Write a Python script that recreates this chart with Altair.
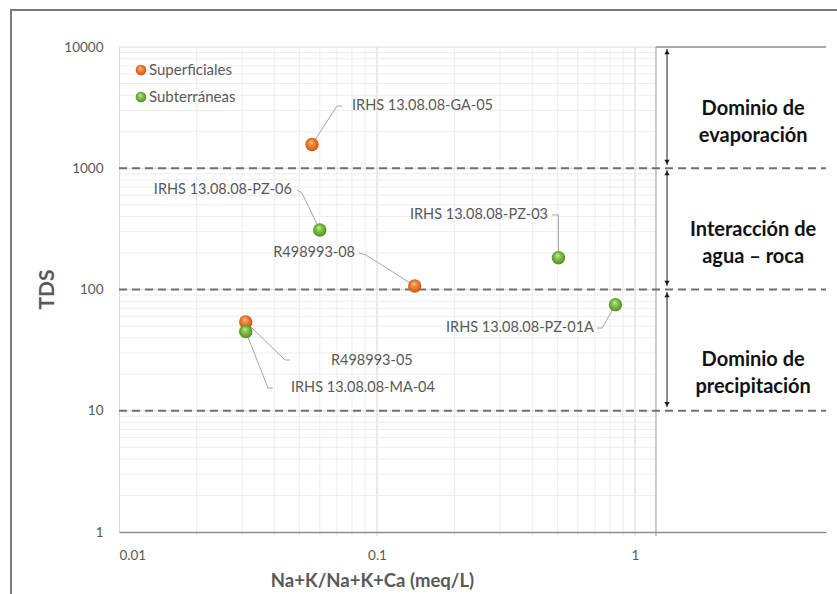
import altair as alt
import pandas as pd

# Muestras: relación Na+K/(Na+K+Ca) (meq/L) frente a sólidos disueltos totales
sample_ids = [
    "IRHS 13.08.08-GA-05", "R498993-08", "R498993-05",
    "IRHS 13.08.08-PZ-06", "IRHS 13.08.08-PZ-03", "IRHS 13.08.08-PZ-01A",
    "IRHS 13.08.08-MA-04",
]
ratio = [0.056, 0.140, 0.031, 0.060, 0.505, 0.84, 0.031]
tds = [1570, 107, 54, 310, 183, 75, 45]
water_type = [
    "Superficiales", "Superficiales", "Superficiales",
    "Subterráneas", "Subterráneas", "Subterráneas", "Subterráneas",
]

# Etiquetas de las muestras (en unidades de los ejes) y codos de las líneas guía
label_x = [0.080, 0.0822, 0.0663, 0.0468, 0.460, 0.693, 0.0464]
label_y = [3260, 200, 25.7, 660, 412, 48.1, 15.4]
label_align = ["left", "right", "left", "right", "right", "right", "left"]
leader_bends = [
    [(0.0700, 3260), (0.0732, 3260)],
    [(0.0907, 192.5), (0.0852, 200)],
    [(0.0440, 26.2), (0.0460, 26.2)],
    [(0.0512, 625), (0.0490, 660)],
    [(0.505, 412), (0.477, 412)],
    [(0.745, 48.1), (0.712, 48.1)],
    [(0.0378, 15.4), (0.0395, 15.4)],
]

# Límites de los dominios hidroquímicos (TDS)
limits = [10, 100, 1000]
domain_names = ["Dominio de\nevaporación", "Interacción de\nagua – roca", "Dominio de\nprecipitación"]
domain_text_y = [3110, 310, 26]
arrow_top = [9627, 967, 95.4]
arrow_bottom = [1064, 106.9, 10.7]

X_MIN, X_MAX = 0.01, 5.5
Y_MIN, Y_MAX = 1, 10000
PANEL_X = 1.206      # inicio del recuadro de texto a la derecha
ARROW_X = 1.331
TEXT_X = 2.87

GREY_TXT = "#595959"
FONT = "Lato"

xs = alt.Scale(type="log", domain=[X_MIN, X_MAX], nice=False)
ys = alt.Scale(type="log", domain=[Y_MIN, Y_MAX], nice=False)

x_axis = alt.Axis(values=[0.01, 0.1, 1], format="~g", grid=False, ticks=False,
                  domainColor="#8c8c8c", domainWidth=1.5, labelPadding=16,
                  titleX=253, titleY=48, titleBaseline="middle", zindex=1)
y_axis = alt.Axis(values=[1, 10, 100, 1000, 10000], format="~g", grid=False, ticks=False,
                  domainColor="#d9d9d9", labelPadding=16, titleFontSize=21,
                  titleX=-72, titleY=242, titleBaseline="middle")
X_TITLE = "Na+K/Na+K+Ca (meq/L)"
Y_TITLE = "TDS"


def X(field):
    return alt.X(field, type="quantitative", scale=xs, axis=x_axis, title=X_TITLE)


def Y(field):
    return alt.Y(field, type="quantitative", scale=ys, axis=y_axis, title=Y_TITLE)


samples = pd.DataFrame({
    "id": sample_ids, "ratio": ratio, "tds": tds, "tipo": water_type,
    "lx": label_x, "ly": label_y, "align": label_align,
})

# líneas de cuadrícula (mayores y menores) de los ejes logarítmicos
x_minor = [m * 10.0 ** k for k in (-2, -1) for m in range(2, 10)]
x_major = [0.1, 1.0]
y_minor = [m * 10.0 ** k for k in range(4) for m in range(2, 10)]
y_major = [10.0, 100.0, 1000.0, 10000.0]

vgrid = pd.DataFrame({"x": x_minor + x_major,
                      "major": [False] * len(x_minor) + [True] * len(x_major)})
hgrid = pd.DataFrame({"y": y_minor + y_major, "x0": X_MIN, "x1": PANEL_X,
                      "major": [False] * len(y_minor) + [True] * len(y_major)})

vlines = alt.Chart(vgrid).mark_rule(strokeWidth=1).encode(
    x=X("x"), y=alt.value(0), y2=alt.value(489),
    color=alt.condition("datum.major", alt.value("#d6d6d6"), alt.value("#ececec")),
)
hlines = alt.Chart(hgrid).mark_rule(strokeWidth=1).encode(
    y=Y("y"), x=X("x0"), x2="x1",
    color=alt.condition("datum.major", alt.value("#dcdcdc"), alt.value("#ededed")),
)

panel = alt.Chart(pd.DataFrame({"a": [PANEL_X], "b": [X_MAX], "c": [Y_MIN], "d": [Y_MAX]})).mark_rect(
    fill="white").encode(x=X("a"), x2="b", y=Y("c"), y2="d")
panel_left = alt.Chart(pd.DataFrame({"x": [PANEL_X]})).mark_rule(color="#a8a8a8", strokeWidth=1.2).encode(
    x=X("x"), y=alt.value(0), y2=alt.value(489))
panel_top = alt.Chart(pd.DataFrame({"a": [PANEL_X], "b": [X_MAX], "y": [Y_MAX]})).mark_rule(
    color="#8c8c8c", strokeWidth=1.5).encode(x=X("a"), x2="b", y=Y("y"))

dashed = alt.Chart(pd.DataFrame({"y": limits, "x0": X_MIN, "x1": X_MAX})).mark_rule(
    color="#707070", strokeWidth=2, strokeDash=[8, 5]).encode(
    y=Y("y"), x=X("x0"), x2="x1")

arrows = pd.DataFrame({"top": arrow_top, "bottom": arrow_bottom, "x": [ARROW_X] * 3})
arrow_lines = alt.Chart(arrows).mark_rule(color="#1a1a1a", strokeWidth=1).encode(
    x=X("x"), y=Y("top"), y2="bottom")
arrow_up = alt.Chart(arrows).mark_point(shape="triangle-up", filled=True, size=28, color="#1a1a1a",
                                        opacity=1, yOffset=3).encode(x=X("x"), y=Y("top"))
arrow_down = alt.Chart(arrows).mark_point(shape="triangle-down", filled=True, size=28, color="#1a1a1a",
                                          opacity=1, yOffset=-3).encode(x=X("x"), y=Y("bottom"))

domain_labels = alt.Chart(pd.DataFrame({"t": domain_names, "y": domain_text_y, "x": [TEXT_X] * 3})).mark_text(
    font=FONT, fontSize=20, fontWeight="bold", color="#111111", lineBreak="\n", lineHeight=27,
    align="center", baseline="middle").encode(x=X("x"), y=Y("y"), text="t:N")

# líneas guía: punto -> codo -> etiqueta
rows = []
for sid, px, py, bends in zip(sample_ids, ratio, tds, leader_bends):
    pts = [(px, py)] + bends
    for i, (bx, by) in enumerate(pts):
        rows.append({"id": sid, "order": i, "x": bx, "y": by})
leaders = alt.Chart(pd.DataFrame(rows)).mark_line(color="#a6a6a6", strokeWidth=1).encode(
    x=X("x"), y=Y("y"), detail="id:N", order="order:Q")

labels_left = alt.Chart(samples).transform_filter("datum.align == 'left'").mark_text(
    font=FONT, fontSize=14.5, color=GREY_TXT, align="left", baseline="middle").encode(
    x=X("lx"), y=Y("ly"), text="id:N")
labels_right = alt.Chart(samples).transform_filter("datum.align == 'right'").mark_text(
    font=FONT, fontSize=14.5, color=GREY_TXT, align="right", baseline="middle").encode(
    x=X("lx"), y=Y("ly"), text="id:N")


def sphere(light, mid, dark, rim):
    return {
        "gradient": "radial", "x1": 0.42, "y1": 0.3, "r1": 0.0,
        "x2": 0.5, "y2": 0.5, "r2": 0.55,
        "stops": [
            {"offset": 0.0, "color": light}, {"offset": 0.35, "color": mid},
            {"offset": 0.8, "color": dark}, {"offset": 1.0, "color": rim},
        ],
    }


orange_fill = sphere("#fcc79b", "#f08a3e", "#d5661e", "#b4501a")
green_fill = sphere("#cdeea6", "#8dc652", "#5e9e2e", "#457f1f")

sup_pts = alt.Chart(samples).transform_filter("datum.tipo == 'Superficiales'").mark_circle(
    size=180, opacity=1, fill=orange_fill).encode(x=X("ratio"), y=Y("tds"))
sub_pts = alt.Chart(samples).transform_filter("datum.tipo == 'Subterráneas'").mark_circle(
    size=180, opacity=1, fill=green_fill).encode(x=X("ratio"), y=Y("tds"))

# leyenda dentro del área de trazado
legend_names = ["Superficiales", "Subterráneas"]
legend_y = [6457, 3869]
leg = pd.DataFrame({"t": legend_names, "y": legend_y, "x": [0.01217, 0.01217], "tx": [0.01307, 0.01307]})
leg_sup = alt.Chart(leg).transform_filter("datum.t == 'Superficiales'").mark_circle(
    size=115, opacity=1, fill=orange_fill).encode(x=X("x"), y=Y("y"))
leg_sub = alt.Chart(leg).transform_filter("datum.t == 'Subterráneas'").mark_circle(
    size=115, opacity=1, fill=green_fill).encode(x=X("x"), y=Y("y"))
leg_text = alt.Chart(leg).mark_text(font=FONT, fontSize=15, color=GREY_TXT, align="left",
                                    baseline="middle").encode(x=X("tx"), y=Y("y"), text="t:N")

# marco exterior del gráfico
frame = alt.Chart(pd.DataFrame({"k": [0]})).mark_rect(
    fill=None, stroke="#7a7a7a", strokeWidth=2, clip=False).encode(
    x=alt.value(-108), y=alt.value(-37), x2=alt.value(760), y2=alt.value(600))

chart = alt.layer(
    vlines, hlines, panel, panel_left, panel_top, dashed,
    arrow_lines, arrow_up, arrow_down, domain_labels,
    leaders, labels_left, labels_right, sup_pts, sub_pts,
    leg_sup, leg_sub, leg_text, frame,
).properties(
    width=707, height=485,
    autosize=alt.AutoSizeParams(type="none"),
    padding={"left": 119, "top": 47, "right": 11, "bottom": 62},
    background="white",
).configure_view(stroke=None).configure_axis(
    labelFont=FONT, labelFontSize=13.5, labelColor=GREY_TXT,
    titleFont=FONT, titleFontSize=18.5, titleFontWeight="bold", titleColor=GREY_TXT,
)

chart.save("out.html", embed_options={"renderer": "svg", "actions": False})
